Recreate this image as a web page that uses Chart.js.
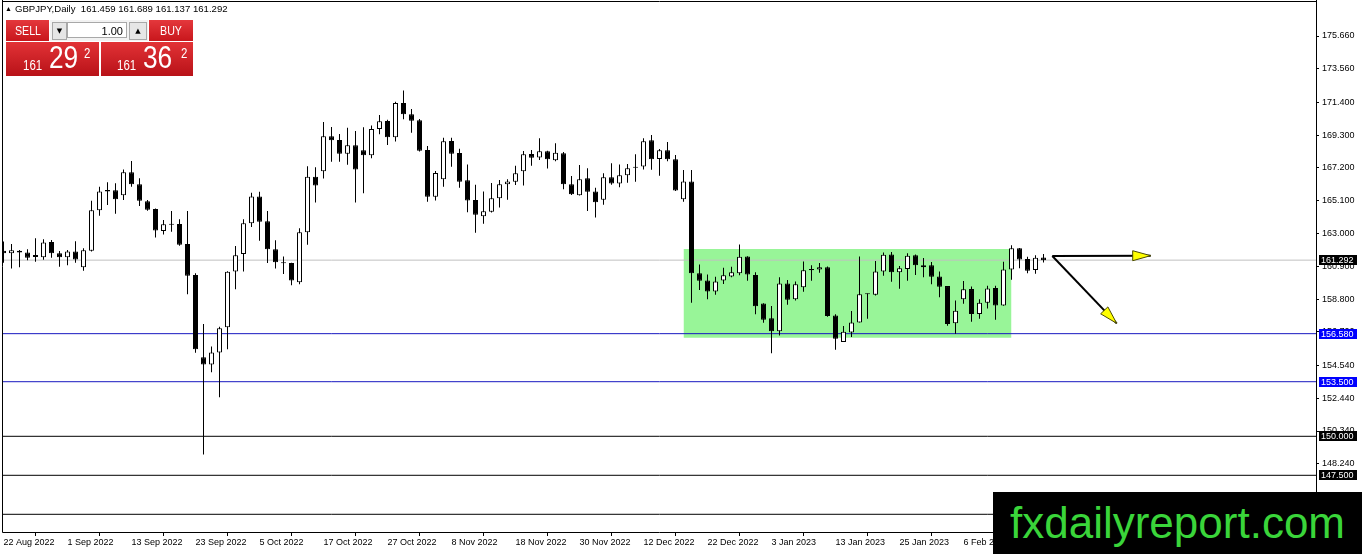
<!DOCTYPE html>
<html>
<head>
<meta charset="utf-8">
<script src="https://cdn.jsdelivr.net/npm/chart.js@4.4.1/dist/chart.umd.min.js"></script>
<style>
html,body{margin:0;padding:0;background:#fff;overflow:hidden;}
#wrap{position:relative;width:1362px;height:554px;}
#c{position:absolute;left:0;top:0;}
.hdr{position:absolute;left:5px;top:2px;font-family:'Liberation Sans',Arial,sans-serif;font-size:9.6px;line-height:14px;color:#000;white-space:pre;}
.hdr .tri{font-size:7px;vertical-align:1px;margin-right:3px;}
.red{position:absolute;background:linear-gradient(#e4383c,#c8161c);color:#fff;font-family:'Liberation Sans',Arial,sans-serif;}
.top{top:20px;height:21px;line-height:21px;font-size:13px;}
.top span{position:absolute;left:50%;top:0;transform:translateX(-50%) scaleX(0.82);white-space:nowrap;}
.big{top:42px;height:34px;background:linear-gradient(#e23236,#b81218);}
.big span{position:absolute;white-space:nowrap;transform:scaleX(0.82);transform-origin:left bottom;}
.s{font-size:14px;bottom:3px;}
.b{font-size:32px;bottom:0px;}
.sup{font-size:14px;top:3px;}
.spin{position:absolute;left:50px;top:20px;width:98px;height:21px;background:#f2f2f2;}
.btn{position:absolute;top:2px;height:16px;background:#e6e6e6;border:1px solid #a8a8a8;font-size:7px;line-height:16px;text-align:center;color:#000;font-family:'DejaVu Sans',sans-serif;}
.inp{position:absolute;left:17px;top:2px;width:60px;height:16px;background:#fff;border:1px solid #a8a8a8;font-family:'Liberation Sans',Arial,sans-serif;font-size:11px;line-height:16px;text-align:right;color:#000;box-sizing:border-box;padding-right:3px;}
.wm{position:absolute;left:993px;top:492px;width:369px;height:62px;background:#000;color:#3ad53a;font-family:'Liberation Sans',Arial,sans-serif;font-size:44px;line-height:62px;text-indent:17px;white-space:nowrap;overflow:hidden;}
</style>
</head>
<body>
<div id="wrap">
<canvas id="c" width="1362" height="554"></canvas>
<div class="hdr"><span class="tri">▲</span>GBPJPY,Daily  161.459 161.689 161.137 161.292</div>
<div class="red top" style="left:6px;width:43px;"><span>SELL</span></div>
<div class="spin">
  <div class="btn" style="left:2px;width:13px;">▼</div>
  <div class="inp">1.00</div>
  <div class="btn" style="left:79px;width:16px;">▲</div>
</div>
<div class="red top" style="left:149px;width:44px;"><span>BUY</span></div>
<div class="red big" style="left:6px;width:93px;">
  <span class="s" style="left:17px;">161</span><span class="b" style="left:43px;">29</span><span class="sup" style="left:78px;">2</span>
</div>
<div class="red big" style="left:101px;width:92px;">
  <span class="s" style="left:16px;">161</span><span class="b" style="left:42px;">36</span><span class="sup" style="left:80px;">2</span>
</div>
<div class="wm">fxdailyreport.com</div>
</div>
<script>
// ---- data ----
const dateLabels = ["22 Aug 2022","1 Sep 2022","13 Sep 2022","23 Sep 2022","5 Oct 2022","17 Oct 2022","27 Oct 2022","8 Nov 2022","18 Nov 2022","30 Nov 2022","12 Dec 2022","22 Dec 2022","3 Jan 2023","13 Jan 2023","25 Jan 2023","6 Feb 2023"];
const labelStep = 8; // bars between date labels

const opens = [161.90,161.73,161.90,161.79,161.49,161.47,162.46,161.73,161.47,161.84,
160.83,161.90,164.49,165.79,165.77,165.45,166.92,166.15,165.06,164.57,
163.16,163.59,163.61,162.33,160.34,155.06,154.61,155.38,156.99,160.57,
161.69,163.65,165.38,163.78,161.99,161.12,161.11,159.87,163.08,166.64,
166.99,169.23,168.99,168.12,168.65,168.33,168.01,169.70,170.21,169.17,
171.37,170.64,170.26,168.35,165.36,166.47,168.93,168.16,166.41,165.15,
164.10,164.40,165.26,166.15,166.32,166.99,168.10,167.88,168.27,167.69,
168.14,166.15,165.45,166.54,165.70,165.17,166.60,166.20,166.73,167.28,
167.30,168.97,167.78,168.33,167.76,165.19,166.34,160.45,159.99,159.29,
159.99,160.25,160.45,161.53,160.34,158.52,157.56,156.73,159.80,158.78,
159.55,160.72,160.70,160.83,157.75,156.04,156.66,157.30,159.10,159.08,
160.57,161.66,160.51,160.73,161.60,160.83,160.96,160.25,159.63,157.24,
158.78,159.44,157.84,158.56,159.50,158.39,160.70,162.05,161.36,160.66,
161.459];
const highs = [162.48,162.33,161.94,161.99,162.69,162.63,162.58,161.88,161.94,162.50,
162.05,165.10,166.00,166.28,166.22,167.11,167.65,166.54,165.15,164.61,
163.87,164.44,163.91,164.44,160.45,157.20,155.75,157.03,160.58,162.20,
163.91,165.62,165.68,164.44,162.56,161.52,161.13,163.33,167.31,167.24,
170.15,169.83,169.38,169.78,169.57,169.81,169.93,170.60,170.30,171.45,
172.16,170.98,170.34,168.61,167.01,169.14,169.14,168.44,167.43,166.13,
165.70,166.24,166.43,166.47,167.35,168.29,168.35,169.10,168.31,168.78,
168.23,166.69,167.39,167.18,165.94,166.86,167.50,167.43,167.46,168.08,
169.10,169.31,168.42,168.87,168.03,167.07,167.07,161.02,160.38,160.23,
160.81,160.87,162.30,161.55,160.51,158.53,158.35,160.19,160.02,159.93,
161.21,160.96,161.11,160.89,157.82,157.07,158.03,161.53,159.16,161.24,
161.79,161.81,160.91,161.73,161.66,161.43,161.17,160.57,159.63,158.71,
159.95,159.61,158.78,159.65,159.65,161.19,162.24,162.07,161.51,161.60,
161.689];
const lows = [161.13,160.75,160.83,161.28,161.19,161.32,161.45,160.87,160.96,161.13,
160.62,161.84,164.14,164.83,164.27,165.15,166.00,164.76,164.46,162.75,
162.93,163.12,162.22,159.10,155.36,148.84,154.10,152.50,155.58,159.42,
160.57,163.42,162.54,161.11,160.75,160.40,159.68,159.74,162.28,164.98,
166.52,167.60,167.60,167.41,164.98,165.58,167.82,169.36,168.67,168.89,
170.32,169.46,168.25,165.04,165.11,166.00,167.28,165.94,164.36,163.05,
163.63,164.34,164.66,165.17,166.11,166.07,167.35,167.71,167.16,167.63,
165.83,165.47,165.44,164.44,164.02,164.85,166.13,165.96,166.26,166.32,
167.11,167.09,166.71,167.63,165.72,165.04,158.56,159.38,158.78,159.08,
159.76,160.19,160.32,159.97,157.82,157.28,155.32,156.47,158.44,158.71,
159.27,159.97,160.49,157.67,155.55,156.04,156.36,157.30,157.54,159.03,
160.30,159.91,159.46,159.97,160.34,160.19,159.74,158.91,157.09,156.58,
158.50,157.35,157.54,158.20,157.47,158.37,160.04,160.77,160.45,160.42,
161.137];
const closes = [161.73,161.92,161.79,161.45,161.62,162.43,161.73,161.47,161.84,161.34,
161.92,164.49,165.70,165.70,165.19,166.92,166.15,165.10,164.53,163.20,
163.59,163.56,162.28,160.30,155.58,154.61,155.38,156.92,160.55,161.60,
163.65,165.38,163.76,161.99,161.15,161.10,159.98,163.08,166.64,166.07,
169.23,168.97,168.12,168.65,167.11,168.01,169.70,170.19,169.17,171.37,
170.64,170.23,168.31,165.36,166.88,168.91,168.12,166.32,165.11,164.21,
164.42,165.26,166.15,166.34,166.86,168.08,167.86,168.27,167.76,168.18,
166.15,165.51,166.47,165.68,165.00,166.60,166.20,166.73,167.18,167.22,
168.91,167.76,168.33,167.76,165.75,166.34,160.45,159.97,159.29,159.93,
160.32,160.51,161.51,160.38,158.33,157.47,156.73,159.80,158.76,159.74,
160.64,160.64,160.83,157.71,156.26,156.71,157.30,159.10,159.12,160.57,
161.64,160.51,160.77,161.58,160.96,160.96,160.23,159.59,157.20,158.05,
159.42,157.84,158.56,159.48,158.39,160.70,162.05,161.34,160.62,161.45,
161.292];

const yTicks = [175.66,173.56,171.40,169.30,167.20,165.10,163.00,160.90,158.80,156.70,154.54,152.44,150.34,148.24,146.14];
const yMin = 143.866, yMax = 177.84;
const xMin = -0.0625, xMax = 164.0625;

const currentPrice = 161.292;
const levelPrices = [156.58, 153.50, 150.00, 147.50, 145.00];
const levelColors = ['#1818c0','#1818c0','#000000','#000000','#000000'];
const levelBoxColors = ['#0000ff','#0000ff','#000000','#000000','#000000'];

const zoneBars = [85, 126];
const zonePrices = [156.32, 162.00];

const arrowX = [131.1, 143.4, 139.15];
const arrowY = [161.56, 161.58, 157.24];

// ---- chart ----
const FONT = "'Liberation Sans', Arial, sans-serif";

const datasets = [];
datasets.push({
  type:'line', order:10,
  data: zoneBars.map(b => ({x:b, y:zonePrices[1]})),
  borderWidth:0, pointRadius:0, backgroundColor:'#98f598',
  fill:{value: zonePrices[0]}
});
datasets.push({
  type:'line', order:9,
  data:[{x:xMin,y:currentPrice},{x:xMax,y:currentPrice}],
  borderColor:'#c0c0c0', borderWidth:1, pointRadius:0, fill:false
});
levelPrices.forEach((p,k) => datasets.push({
  type:'line', order:8,
  data:[{x:xMin,y:p},{x:xMax,y:p}],
  borderColor:levelColors[k], borderWidth:1, pointRadius:0, fill:false
}));
datasets.push({
  type:'bar', order:3,
  data: highs.map((h,i) => ({x:i, y:[lows[i], h]})),
  backgroundColor:'#000', borderWidth:0, barThickness:1, grouped:false, inflateAmount:0
});
datasets.push({
  type:'bar', order:2,
  data: opens.map((o,i) => ({x:i, y:[o, closes[i]]})),
  backgroundColor: opens.map((o,i) => closes[i] >= o ? '#ffffff' : '#000000'),
  borderColor:'#000', borderWidth:1, borderSkipped:false, barThickness:5,
  minBarLength:1, grouped:false, inflateAmount:0
});
for (let k = 1; k < arrowX.length; k++) {
  datasets.push({
    type:'line', order:1,
    data:[{x:arrowX[0],y:arrowY[0]},{x:arrowX[k],y:arrowY[k]}],
    borderColor:'#000', borderWidth:2, pointRadius:0, fill:false
  });
}

const overlay = {
  id:'overlay',
  afterDatasetsDraw(chart){
    const {ctx, scales:{x, y}} = chart;
    const sx = x.getPixelForValue(arrowX[0]), sy = y.getPixelForValue(arrowY[0]);
    ctx.save();
    for (let k = 1; k < arrowX.length; k++) {
      const ex = x.getPixelForValue(arrowX[k]), ey = y.getPixelForValue(arrowY[k]);
      const a = Math.atan2(ey - sy, ex - sx);
      const L = 18, W = 5;
      const bx = ex - L*Math.cos(a), by = ey - L*Math.sin(a);
      ctx.beginPath();
      ctx.moveTo(ex, ey);
      ctx.lineTo(bx + W*Math.sin(a), by - W*Math.cos(a));
      ctx.lineTo(bx - W*Math.sin(a), by + W*Math.cos(a));
      ctx.closePath();
      ctx.fillStyle = '#ffff00';
      ctx.fill();
      ctx.strokeStyle = '#4a4a00';
      ctx.lineWidth = 1;
      ctx.stroke();
    }
    ctx.restore();
  },
  afterDraw(chart){
    const {ctx, chartArea:ca, scales:{y}} = chart;
    ctx.save();
    ctx.strokeStyle = '#000';
    ctx.lineWidth = 1;
    ctx.beginPath();
    ctx.moveTo(ca.left - 0.5, 0); ctx.lineTo(ca.left - 0.5, ca.bottom + 0.5);
    ctx.moveTo(ca.left - 0.5, ca.top - 0.5); ctx.lineTo(ca.right + 0.5, ca.top - 0.5);
    ctx.moveTo(ca.right + 0.5, 0); ctx.lineTo(ca.right + 0.5, chart.height);
    ctx.moveTo(ca.left - 0.5, ca.bottom + 0.5); ctx.lineTo(ca.right + 0.5, ca.bottom + 0.5);
    ctx.stroke();
    const boxes = [[currentPrice, '#000000']].concat(levelPrices.map((p,k) => [p, levelBoxColors[k]]));
    ctx.font = "9px " + FONT;
    ctx.textBaseline = 'middle';
    ctx.textAlign = 'left';
    boxes.forEach(([p, col]) => {
      const py = Math.round(y.getPixelForValue(p));
      ctx.fillStyle = col;
      ctx.fillRect(ca.right + 3, py - 5, 38, 10);
      ctx.fillStyle = '#fff';
      ctx.fillText(p.toFixed(3), ca.right + 5, py + 0.5);
    });
    ctx.restore();
  }
};

new Chart(document.getElementById('c'), {
  type:'bar',
  data:{datasets},
  plugins:[overlay],
  options:{
    responsive:false, animation:false, devicePixelRatio:1, events:[],
    layout:{padding:{left:3, top:2, right:0, bottom:0}},
    plugins:{legend:{display:false}, tooltip:{enabled:false}},
    scales:{
      x:{
        type:'linear', min:xMin, max:xMax, offset:false,
        afterBuildTicks: s => { s.ticks = dateLabels.map((_,k) => ({value:k*labelStep})); },
        afterFit: s => { s.height = 22; s.paddingLeft = 0; s.paddingRight = 0; },
        grid:{display:true, drawOnChartArea:false, drawTicks:true, tickLength:4, color:'#000', tickColor:'#000'},
        border:{display:false},
        ticks:{align:'start', autoSkip:false, maxRotation:0, minRotation:0, padding:1, color:'#000',
               font:{family:FONT, size:9}, callback:(v, idx) => dateLabels[idx]}
      },
      y:{
        type:'linear', position:'right', min:yMin, max:yMax,
        afterBuildTicks: s => { s.ticks = yTicks.map(v => ({value:v})); },
        afterFit: s => { s.width = 46; s.paddingTop = 0; s.paddingBottom = 0; },
        grid:{display:true, drawOnChartArea:false, drawTicks:true, tickLength:3, color:'#000', tickColor:'#000'},
        border:{display:false},
        ticks:{padding:3, color:'#000', font:{family:FONT, size:9}, callback: v => v.toFixed(3)}
      }
    }
  }
});
</script>
</body>
</html>
